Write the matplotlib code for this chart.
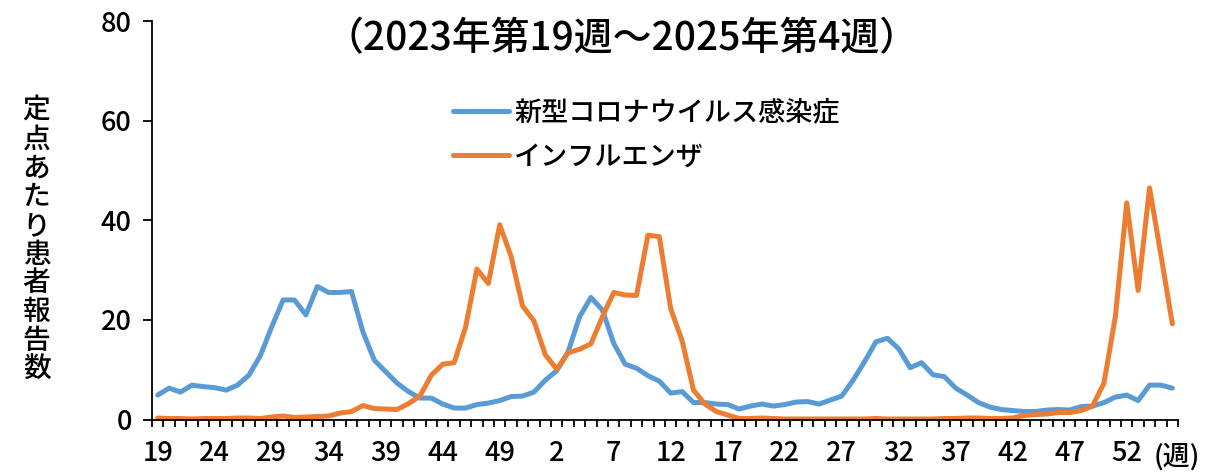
import matplotlib
matplotlib.use("Agg")
import matplotlib.pyplot as plt
import numpy as np

plt.rcParams['font.family'] = ['Noto Sans CJK JP', 'DejaVu Sans']
plt.rcParams['font.weight'] = 'medium'

# categories: 2023 w19 .. 2025 w4
weeks = list(range(19, 53)) + list(range(1, 53)) + list(range(1, 5))

covid = [
    # 2023 w19-52
    4.9, 6.3, 5.5, 6.9, 6.6, 6.4, 5.9, 6.9, 8.9, 12.8, 18.6, 24.0, 24.0, 21.0, 26.7, 25.5, 25.5,
    25.7, 17.6, 11.9, 9.6, 7.3, 5.6, 4.3, 4.3, 3.1, 2.3, 2.3, 3.0, 3.3, 3.8, 4.6, 4.7, 5.5,
    # 2024 w1-52
    7.9, 9.8, 13.6, 20.6, 24.5, 22.0, 15.3, 11.1, 10.3, 8.8, 7.7, 5.3, 5.6, 3.4, 3.4, 3.1, 3.0,
    2.1, 2.7, 3.1, 2.7, 3.0, 3.5, 3.6, 3.1, 3.9, 4.7, 7.9, 11.6, 15.6, 16.3, 14.2, 10.4, 11.4,
    9.0, 8.6, 6.3, 4.9, 3.4, 2.5, 2.0, 1.8, 1.6, 1.6, 1.9, 2.0, 1.9, 2.6, 2.7, 3.4, 4.5, 4.9,
    # 2025 w1-4
    3.8, 6.9, 6.9, 6.3,
]

flu = [
    # 2023 w19-52
    0.3, 0.2, 0.2, 0.1, 0.2, 0.2, 0.2, 0.3, 0.3, 0.2, 0.5, 0.7, 0.4, 0.5, 0.6, 0.7, 1.3,
    1.6, 2.8, 2.2, 2.1, 2.0, 3.2, 4.7, 8.9, 11.1, 11.4, 18.5, 30.2, 27.3, 39.1, 32.7, 22.8, 19.8,
    # 2024 w1-52
    13.0, 10.1, 13.4, 14.1, 15.2, 20.6, 25.5, 25.0, 24.9, 37.0, 36.7, 22.2, 15.8, 5.9, 3.1, 1.6, 0.9,
    0.2, 0.2, 0.3, 0.2, 0.1, 0.1, 0.1, 0.1, 0.1, 0.1, 0.1, 0.1, 0.2, 0.1, 0.1, 0.1, 0.1,
    0.1, 0.2, 0.2, 0.3, 0.3, 0.2, 0.2, 0.3, 0.8, 1.0, 1.1, 1.4, 1.4, 1.8, 2.7, 7.3, 20.6, 43.5,
    # 2025 w1-4
    25.9, 46.5, 33.0, 19.2,
]

label_every = 5
series_names = ['新型コロナウイルス感染症', 'インフルエンザ']
title_text = '（2023年第19週～2025年第4週）'
ylabel_text = '定点あたり患者報告数'
unit_text = '(週)'
yticks = [0, 20, 40, 60, 80]

fig = plt.figure(figsize=(12.19, 4.73), dpi=100)
ax = fig.add_axes([0.1247, 0.1131, 0.8417, 0.8425])

x = np.arange(len(weeks))
ax.plot(x, covid, color='#5B9BD5', lw=3.6, solid_joinstyle='round', solid_capstyle='round',
        label=series_names[0])
ax.plot(x, flu, color='#ED7D31', lw=3.6, solid_joinstyle='round', solid_capstyle='round',
        label=series_names[1])

ax.set_xlim(-0.5, len(weeks) - 0.5)
ax.set_ylim(0, 80)
ax.set_yticks(yticks)
ax.tick_params(axis='y', direction='out', length=6.5, width=1.3, labelsize=19.5, pad=8)

major = x[::label_every]
ax.set_xticks(major)
ax.set_xticklabels([str(weeks[i]) for i in major])
ax.set_xticks(np.arange(-0.5, len(weeks), 1), minor=True)
ax.tick_params(axis='x', which='major', length=0, labelsize=19.5, pad=15)
ax.tick_params(axis='x', which='minor', direction='out', length=5, width=1.3)

for s in ['top', 'right']:
    ax.spines[s].set_visible(False)
for s in ['left', 'bottom']:
    ax.spines[s].set_linewidth(1.3)
    ax.spines[s].set_color('black')

fig.text(0.510, 0.917, title_text, ha='center', va='center', fontsize=28)
fig.text(0.030, 0.493, '\n'.join(ylabel_text), ha='center', va='center', fontsize=20,
         linespacing=0.99)
fig.text(0.965, 0.035, unit_text, ha='center', va='center', fontsize=19.5)

leg = ax.legend(loc='upper left', bbox_to_anchor=(0.27, 0.865), frameon=False, fontsize=19.5,
                handlelength=2.05, handletextpad=0.2, labelspacing=0.65)

fig.savefig('out.png', dpi=100)
